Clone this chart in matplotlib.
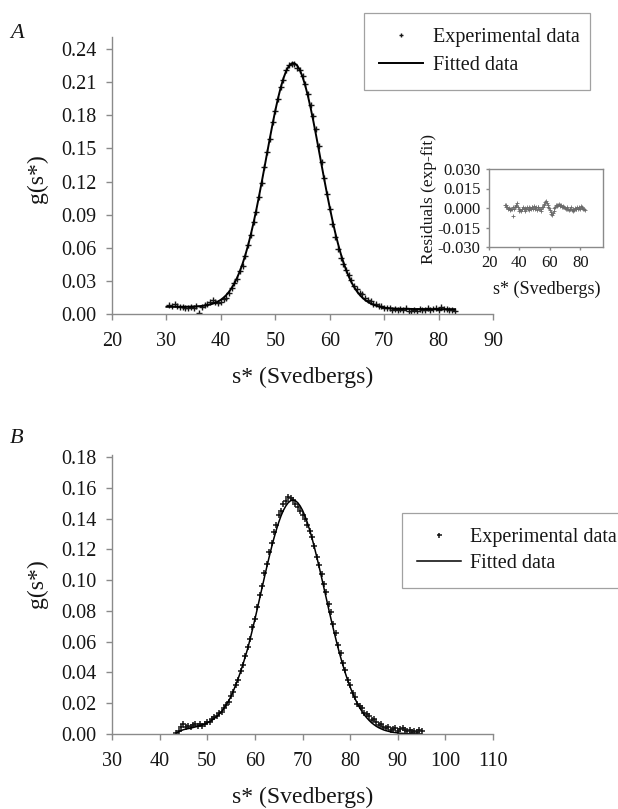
import numpy as np
import matplotlib
matplotlib.use("Agg")
import matplotlib.pyplot as plt
from matplotlib.ticker import FormatStrFormatter

plt.rcParams['font.family'] = ['Liberation Serif', 'DejaVu Serif']

# ---- panel A : sedimentation coefficient distribution ----
s_fit_a = np.arange(30.0, 83.01, 0.5)
g_fit_a = [0.0065, 0.0065, 0.0065, 0.0065, 0.0065, 0.0065, 0.0066, 0.0066, 0.0066, 0.0067,
           0.0068, 0.0069, 0.0071, 0.0073, 0.0076, 0.0080, 0.0086, 0.0093, 0.0102, 0.0114,
           0.0129, 0.0148, 0.0172, 0.0201, 0.0237, 0.0279, 0.0330, 0.0389, 0.0457, 0.0535,
           0.0622, 0.0720, 0.0826, 0.0941, 0.1064, 0.1193, 0.1325, 0.1459, 0.1592, 0.1721,
           0.1843, 0.1954, 0.2053, 0.2136, 0.2202, 0.2247, 0.2271, 0.2273, 0.2253, 0.2212,
           0.2151, 0.2071, 0.1975, 0.1866, 0.1746, 0.1618, 0.1486, 0.1352, 0.1219, 0.1090,
           0.0966, 0.0849, 0.0740, 0.0641, 0.0551, 0.0471, 0.0401, 0.0340, 0.0287, 0.0243,
           0.0205, 0.0174, 0.0148, 0.0127, 0.0110, 0.0096, 0.0085, 0.0076, 0.0069, 0.0063,
           0.0058, 0.0055, 0.0052, 0.0050, 0.0049, 0.0048, 0.0047, 0.0047, 0.0046, 0.0046,
           0.0046, 0.0045, 0.0045, 0.0045, 0.0045, 0.0045, 0.0045, 0.0044, 0.0044, 0.0044,
           0.0044, 0.0044, 0.0044, 0.0044, 0.0044, 0.0044, 0.0044]

s_exp_a = np.arange(30.5, 83.01, 0.5)
g_exp_a = [0.0085, 0.0075, 0.0090, 0.0070, 0.0060, 0.0066, 0.0056, 0.0051, 0.0062, 0.0058,
           0.0074, 0.0011, 0.0063, 0.0081, 0.0095, 0.0111, 0.0128, 0.0112, 0.0104, 0.0109,
           0.0133, 0.0147, 0.0191, 0.0232, 0.0284, 0.0320, 0.0389, 0.0437, 0.0525, 0.0627,
           0.0715, 0.0836, 0.0926, 0.1064, 0.1183, 0.1335, 0.1464, 0.1587, 0.1736, 0.1843,
           0.1944, 0.2058, 0.2121, 0.2207, 0.2257, 0.2266, 0.2263, 0.2233, 0.2207, 0.2156,
           0.2081, 0.1995, 0.1896, 0.1791, 0.1673, 0.1526, 0.1377, 0.1229, 0.1090, 0.0951,
           0.0819, 0.0695, 0.0586, 0.0511, 0.0451, 0.0401, 0.0350, 0.0307, 0.0258, 0.0230,
           0.0194, 0.0178, 0.0147, 0.0125, 0.0121, 0.0095, 0.0091, 0.0074, 0.0073, 0.0058,
           0.0050, 0.0057, 0.0040, 0.0044, 0.0033, 0.0042, 0.0037, 0.0051, 0.0031, 0.0026,
           0.0035, 0.0030, 0.0045, 0.0040, 0.0035, 0.0050, 0.0040, 0.0044, 0.0054, 0.0039,
           0.0059, 0.0049, 0.0044, 0.0034, 0.0039, 0.0029]

# residuals (exp - fit) for the inset
resid_a = [0.0020, 0.0010, 0.0025, 0.0005, -0.0005, 0.0000, -0.0010, -0.0015, -0.0005, -0.0010,
           0.0005, -0.0060, -0.0010, 0.0005, 0.0015, 0.0025, 0.0035, 0.0010, -0.0010, -0.0020,
           -0.0015, -0.0025, -0.0010, -0.0005, 0.0005, -0.0010, 0.0000, -0.0020, -0.0010, 0.0005,
           -0.0005, 0.0010, -0.0015, 0.0000, -0.0010, 0.0010, 0.0005, -0.0005, 0.0015, 0.0000,
           -0.0010, 0.0005, -0.0015, 0.0005, 0.0010, -0.0005, -0.0010, -0.0020, -0.0005, 0.0005,
           0.0010, 0.0020, 0.0030, 0.0045, 0.0055, 0.0040, 0.0025, 0.0010, 0.0000, -0.0015,
           -0.0030, -0.0045, -0.0055, -0.0040, -0.0020, 0.0000, 0.0010, 0.0020, 0.0015, 0.0025,
           0.0020, 0.0030, 0.0020, 0.0015, 0.0025, 0.0010, 0.0015, 0.0005, 0.0010, 0.0000,
           -0.0005, 0.0005, -0.0010, -0.0005, -0.0015, -0.0005, -0.0010, 0.0005, -0.0015, -0.0020,
           -0.0010, -0.0015, 0.0000, -0.0005, -0.0010, 0.0005, -0.0005, 0.0000, 0.0010, -0.0005,
           0.0015, 0.0005, 0.0000, -0.0010, -0.0005, -0.0015]

# ---- panel B ----
s_b = np.arange(43.5, 95.01, 0.5)
g_fit_b = [0.0005, 0.0015, 0.0022, 0.0028, 0.0032, 0.0035, 0.0038, 0.0042, 0.0046, 0.0050,
           0.0055, 0.0060, 0.0066, 0.0072, 0.0080, 0.0090, 0.0101, 0.0114, 0.0129, 0.0146,
           0.0167, 0.0190, 0.0216, 0.0245, 0.0281, 0.0321, 0.0361, 0.0405, 0.0453, 0.0504,
           0.0556, 0.0617, 0.0680, 0.0745, 0.0812, 0.0881, 0.0949, 0.1018, 0.1085, 0.1150,
           0.1213, 0.1272, 0.1326, 0.1375, 0.1418, 0.1454, 0.1482, 0.1503, 0.1516, 0.1520,
           0.1516, 0.1503, 0.1482, 0.1454, 0.1418, 0.1375, 0.1326, 0.1272, 0.1213, 0.1150,
           0.1085, 0.1018, 0.0949, 0.0881, 0.0812, 0.0745, 0.0680, 0.0617, 0.0556, 0.0499,
           0.0445, 0.0395, 0.0348, 0.0306, 0.0267, 0.0231, 0.0200, 0.0171, 0.0146, 0.0124,
           0.0105, 0.0088, 0.0073, 0.0061, 0.0050, 0.0041, 0.0034, 0.0027, 0.0022, 0.0018,
           0.0014, 0.0011, 0.0009, 0.0007, 0.0005, 0.0004, 0.0003, 0.0002, 0.0002, 0.0001,
           0.0001, 0.0001, 0.0001, 0.0000]
g_exp_b = [0.0008, 0.0020, 0.0047, 0.0068, 0.0047, 0.0055, 0.0043, 0.0057, 0.0066, 0.0050,
           0.0065, 0.0055, 0.0066, 0.0077, 0.0075, 0.0095, 0.0111, 0.0114, 0.0134, 0.0141,
           0.0172, 0.0190, 0.0211, 0.0250, 0.0271, 0.0321, 0.0351, 0.0410, 0.0448, 0.0504,
           0.0566, 0.0617, 0.0695, 0.0750, 0.0827, 0.0901, 0.0959, 0.1043, 0.1105, 0.1185,
           0.1238, 0.1312, 0.1356, 0.1420, 0.1448, 0.1494, 0.1512, 0.1538, 0.1536, 0.1520,
           0.1496, 0.1473, 0.1447, 0.1424, 0.1398, 0.1360, 0.1321, 0.1277, 0.1223, 0.1150,
           0.1100, 0.1038, 0.0974, 0.0921, 0.0842, 0.0795, 0.0715, 0.0657, 0.0581, 0.0529,
           0.0460, 0.0415, 0.0353, 0.0321, 0.0267, 0.0241, 0.0195, 0.0181, 0.0166, 0.0134,
           0.0130, 0.0118, 0.0093, 0.0096, 0.0075, 0.0056, 0.0064, 0.0047, 0.0037, 0.0043,
           0.0024, 0.0031, 0.0039, 0.0022, 0.0030, 0.0039, 0.0023, 0.0017, 0.0027, 0.0011,
           0.0021, 0.0016, 0.0026, 0.0020]

yticks_a = [0.00, 0.03, 0.06, 0.09, 0.12, 0.15, 0.18, 0.21, 0.24]
xticks_a = [20, 30, 40, 50, 60, 70, 80, 90]
yticks_b = [0.00, 0.02, 0.04, 0.06, 0.08, 0.10, 0.12, 0.14, 0.16, 0.18]
xticks_b = [30, 40, 50, 60, 70, 80, 90, 100, 110]
yticks_res = [-0.030, -0.015, 0.000, 0.015, 0.030]
xticks_res = [20, 40, 60, 80]

W, H = 618, 809
GREY = '#8a8a8a'
INK = '#161616'
FS = 14.5      # tick and legend text
FL = 17        # axis titles


def box(l, t, r, b):
    # pixel box -> figure fraction rect
    return [l / W, 1 - b / H, (r - l) / W, (b - t) / H]


def style(ax, size, open_box=True):
    for side in ['top', 'right', 'left', 'bottom']:
        ax.spines[side].set_color(GREY)
        ax.spines[side].set_linewidth(1.0)
    if open_box:
        ax.spines['top'].set_visible(False)
        ax.spines['right'].set_visible(False)
    ax.tick_params(direction='out', length=4, width=1, color=GREY,
                   labelsize=size, labelcolor=INK)
    ax.tick_params(axis='x', pad=9)
    ax.tick_params(axis='y', pad=7)


def frame(leg):
    leg.get_frame().set_edgecolor(GREY)
    leg.get_frame().set_linewidth(0.9)
    for t in leg.get_texts():
        t.set_color(INK)


fig = plt.figure(figsize=(W / 100, H / 100), dpi=100)
fig.patch.set_facecolor('white')

# ---------------- A ----------------
ax_a = fig.add_axes(box(112, 37, 493, 314))
style(ax_a, FS)
exp_a, = ax_a.plot(s_exp_a, g_exp_a, linestyle='none', marker='+', ms=4.5,
                   mew=1.0, color=INK, label='Experimental data')
fit_a, = ax_a.plot(s_fit_a, g_fit_a, color='black', lw=1.4, label='Fitted data')
ax_a.set_xlim(20, 90)
ax_a.set_ylim(0, 0.251)
ax_a.set_xticks(xticks_a)
ax_a.set_yticks(yticks_a)
ax_a.yaxis.set_major_formatter(FormatStrFormatter('%.2f'))
ax_a.set_xlabel('s* (Svedbergs)', fontsize=FL, color=INK)
ax_a.xaxis.set_label_coords(0.5, -0.19)
ax_a.set_ylabel('g(s*)', fontsize=FL, color=INK)
ax_a.yaxis.set_label_coords(-0.168, 0.49)

leg_a = ax_a.legend(handles=[exp_a, fit_a], loc='upper left', mode='expand',
                    bbox_to_anchor=(364 / W, 1 - 85 / H, 226 / W, 72 / H),
                    bbox_transform=fig.transFigure, fontsize=FS, fancybox=False,
                    borderpad=0.75, labelspacing=0.42, handlelength=2.2,
                    handletextpad=0.5, borderaxespad=0, markerscale=0.7)
frame(leg_a)

# inset with residuals
ax_r = fig.add_axes(box(489, 169, 603, 247))
style(ax_r, 12, open_box=False)
ax_r.tick_params(length=2, pad=4)
ax_r.plot(s_exp_a, resid_a, linestyle='none', marker='+', ms=2.5, mew=0.6,
          color='#6a6a6a')
ax_r.set_xlim(20, 95)
ax_r.set_ylim(-0.03, 0.03)
ax_r.set_xticks(xticks_res)
ax_r.set_yticks(yticks_res)
ax_r.yaxis.set_major_formatter(FormatStrFormatter('%.3f'))
ax_r.set_xlabel('s* (Svedbergs)', fontsize=13, color=INK)
ax_r.xaxis.set_label_coords(0.51, -0.43)
ax_r.set_ylabel('Residuals (exp-fit)', fontsize=12.5, color=INK)
ax_r.yaxis.set_label_coords(-0.46, 0.62)

# ---------------- B ----------------
ax_b = fig.add_axes(box(112, 455, 493, 734))
style(ax_b, FS)
exp_b, = ax_b.plot(s_b, g_exp_b, linestyle='none', marker='+', ms=4.5,
                   mew=1.1, color=INK, label='Experimental data')
fit_b, = ax_b.plot(s_b, g_fit_b, color='black', lw=1.1, label='Fitted data')
ax_b.set_xlim(30, 110)
ax_b.set_ylim(0, 0.1813)
ax_b.set_xticks(xticks_b)
ax_b.set_yticks(yticks_b)
ax_b.yaxis.set_major_formatter(FormatStrFormatter('%.2f'))
ax_b.set_xlabel('s* (Svedbergs)', fontsize=FL, color=INK)
ax_b.xaxis.set_label_coords(0.5, -0.19)
ax_b.set_ylabel('g(s*)', fontsize=FL, color=INK)
ax_b.yaxis.set_label_coords(-0.168, 0.54)

leg_b = ax_b.legend(handles=[exp_b, fit_b], loc='upper left', mode='expand',
                    bbox_to_anchor=(402 / W, 1 - 584 / H, 260 / W, 71 / H),
                    bbox_transform=fig.transFigure, fontsize=FS, fancybox=False,
                    borderpad=0.75, labelspacing=0.32, handlelength=2.2,
                    handletextpad=0.45, borderaxespad=0, markerscale=0.8)
frame(leg_b)

# panel letters
fig.text(10 / W, 1 - 33 / H, 'A', fontsize=16, style='italic', color=INK,
         ha='left', va='center')
fig.text(10 / W, 1 - 438 / H, 'B', fontsize=16, style='italic', color=INK,
         ha='left', va='center')

fig.savefig('out.png', dpi=100)
